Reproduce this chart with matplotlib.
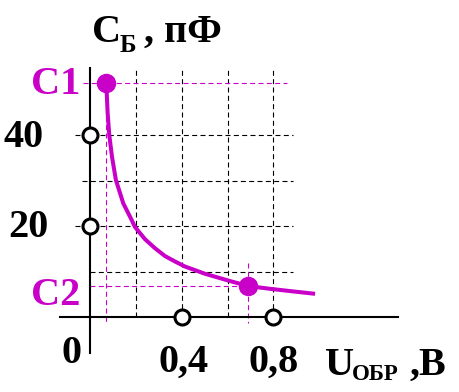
import matplotlib
matplotlib.use("Agg")
import matplotlib.pyplot as plt

# ---- data ----
curve_u = [0.070, 0.073, 0.077, 0.084, 0.096, 0.113, 0.145, 0.182, 0.196,
           0.240, 0.284, 0.327, 0.371, 0.414, 0.458, 0.502, 0.611, 0.691,
           0.785, 0.873, 0.982]
curve_c = [51.4, 49.2, 44.8, 40.0, 35.2, 30.1, 25.0, 21.3, 19.8,
           17.1, 15.1, 13.4, 12.2, 11.1, 10.3, 9.5, 7.9, 6.8,
           6.2, 5.7, 5.1]
point_u = [0.070, 0.691]      # C1, C2
point_c = [51.4, 6.8]
point_names = ["C1", "C2"]
yticks = [20, 40]
ytick_labels = ["20", "40"]
xticks = [0.4, 0.8]
xtick_labels = ["0,4", "0,8"]
ygrid = [10, 20, 30, 40]
xgrid = [0.2, 0.4, 0.6, 0.8]

MAG = "#C800C8"
W, H = 459, 392
fig = plt.figure(figsize=(W / 100, H / 100), dpi=100)
ax = fig.add_axes([0, 0, 1, 1])
ax.set_xlim(-0.3927, 1.610)
ax.set_ylim(-16.48, 69.67)
ax.axis("off")

FONT = "Liberation Serif"

def P(x, y):
    return x / W, 1 - y / H

def t(x, y, s, size=29, color="black"):
    fig.text(*P(x, y), s, fontsize=size, color=color, family=FONT,
             weight="bold", ha="left", va="baseline")

# grid
gkw = dict(color="black", lw=0.8, ls=(0, (4.5, 3)), zorder=1)
for gx in xgrid:
    ax.plot([gx, gx], [0, 54.7], **gkw)
ystarts = {10: 0.0, 20: -0.065, 30: -0.035, 40: -0.065}
for gy in ygrid:
    ax.plot([ystarts[gy], 0.886], [gy, gy], **gkw)

# magenta guides
mkw = dict(color=MAG, lw=0.8, ls=(0, (4.5, 3)), zorder=2)
ax.plot([-0.031, 0.86], [point_c[0], point_c[0]], **mkw)
ax.plot([point_u[0], point_u[0]], [point_c[0], -1.3], **mkw)
ax.plot([0, point_u[1]], [point_c[1], point_c[1]], **mkw)
ax.plot([point_u[1], point_u[1]], [11.9, -1.3], **mkw)

# axes
ax.plot([-0.131, 1.344], [0, 0], color="black", lw=1.5, zorder=3)
ax.plot([0, 0], [-7.9, 54.7], color="black", lw=1.5, zorder=3)

# curve
ax.plot(curve_u, curve_c, color=MAG, lw=2.9, solid_joinstyle="round",
        solid_capstyle="butt", zorder=4)
ax.plot(point_u, point_c, "o", color=MAG, ms=13, zorder=5)

# tick circles
ax.plot([0] * len(yticks), yticks, "o", mfc="white", mec="black", ms=10.8,
        mew=2.2, zorder=6)
ax.plot(xticks, [0] * len(xticks), "o", mfc="white", mec="black", ms=10.8,
        mew=2.2, zorder=6)

# texts
t(92, 42, "С")
t(120, 52, "Б", size=18)
t(144, 42, ", пФ")
t(31, 94, point_names[0], color=MAG)
t(31, 305, point_names[1], color=MAG)
t(4, 147, ytick_labels[1])
t(8, 237, ytick_labels[0])
t(61, 363, "0")
t(158, 372, xtick_labels[0])
t(248, 372, xtick_labels[1])
t(325, 375, "U")
t(352, 380, "ОБР", size=16.5)
t(410, 375, ",В")

fig.savefig("out.png", dpi=100)
